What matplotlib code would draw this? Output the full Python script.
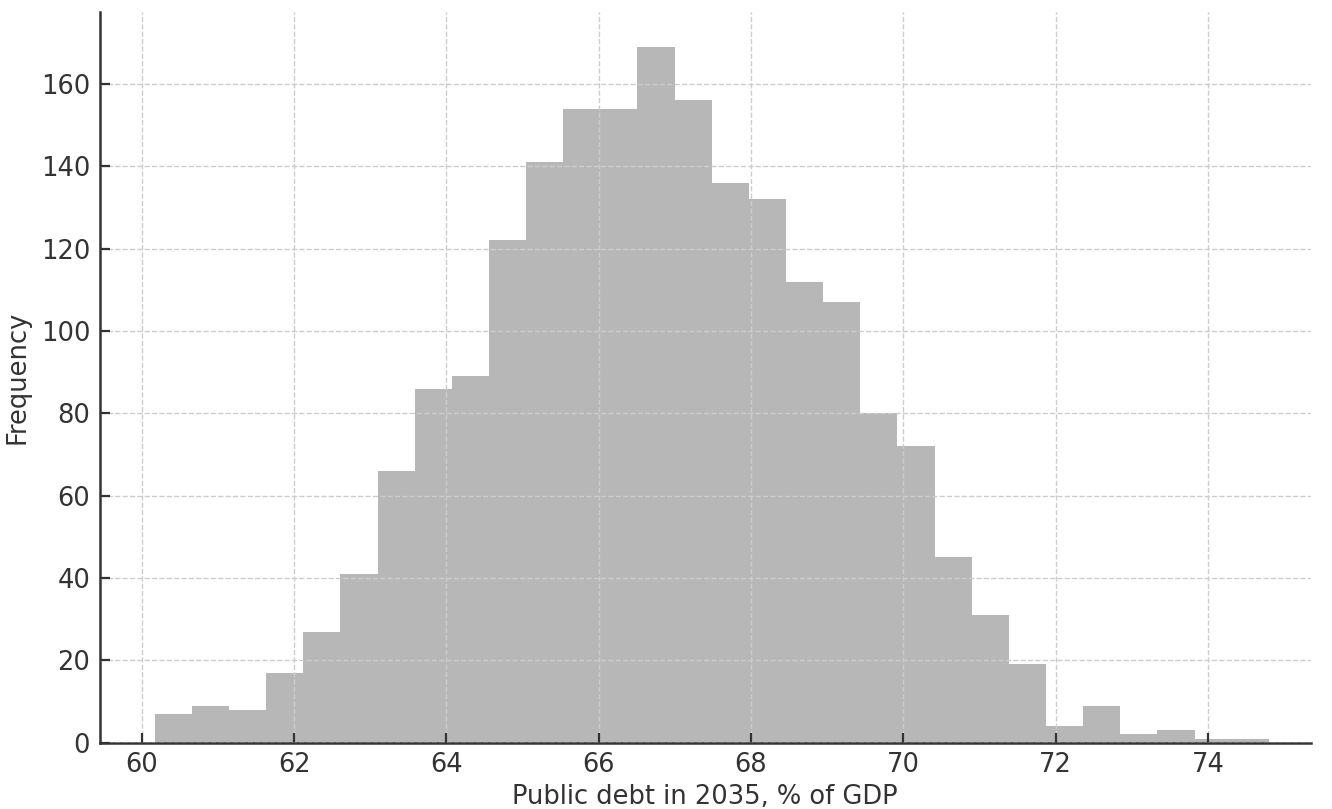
import numpy as np
import matplotlib
matplotlib.use("Agg")
import matplotlib.pyplot as plt

# Histogram counts (30 bins)
counts = [7, 9, 8, 17, 27, 41, 66, 86, 89, 122,
          141, 154, 154, 169, 156, 136, 132, 112, 107, 80,
          72, 45, 31, 19, 4, 9, 2, 3, 1, 1]
bin_lo = 60.17
bin_hi = 74.80
x_label = "Public debt in 2035, % of GDP"
y_label = "Frequency"

edges = np.linspace(bin_lo, bin_hi, len(counts) + 1)
centers = (edges[:-1] + edges[1:]) / 2

plt.rcParams["font.family"] = "DejaVu Sans"
plt.rcParams["font.size"] = 9.25

fig, ax = plt.subplots(figsize=(6.66, 4.045), dpi=200)
fig.subplots_adjust(left=0.075, right=0.984, top=0.985, bottom=0.082)

ax.hist(centers, bins=edges, weights=counts, color="gray", alpha=0.56,
        linewidth=0)

ax.set_xlim(59.45, 75.35)
ax.set_xlabel(x_label, color="#333333", labelpad=2)
ax.set_ylabel(y_label, color="#333333", labelpad=3.5)
ax.set_xticks(np.arange(60, 75, 2))
ax.set_yticks(np.arange(0, 161, 20))

ax.grid(True, linestyle="--", color="#cccccc", linewidth=0.5)
ax.set_axisbelow(False)
for s in ["top", "right"]:
    ax.spines[s].set_visible(False)
for s in ["left", "bottom"]:
    ax.spines[s].set_color("#333333")
    ax.spines[s].set_linewidth(0.9)
ax.tick_params(direction="in", length=3.5, width=0.8, colors="#333333",
               labelcolor="#333333")

plt.savefig("out.png", dpi=200)
